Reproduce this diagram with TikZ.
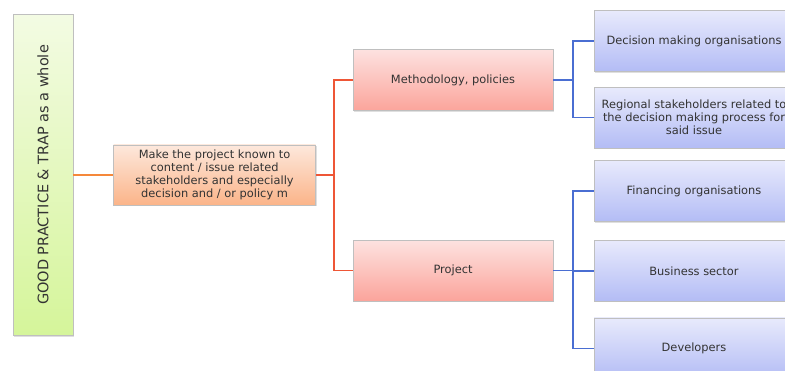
\documentclass[tikz,border=0pt]{standalone}
\usepackage{fontspec}
\setmainfont{DejaVu Sans}
\usepackage{tikz}
\usetikzlibrary{positioning, shadows, calc}

\definecolor{inktext}{HTML}{333333}
\definecolor{greentop}{HTML}{F3FBE3}
\definecolor{greenbot}{HTML}{D5F59A}
\definecolor{orangetop}{HTML}{FDE8DC}
\definecolor{orangebot}{HTML}{FBB489}
\definecolor{pinktop}{HTML}{FDE2E0}
\definecolor{pinkbot}{HTML}{FBA49B}
\definecolor{bluetop}{HTML}{E8EAFC}
\definecolor{bluebot}{HTML}{B3BCF5}
\definecolor{orangeline}{HTML}{F5883A}
\definecolor{redline}{HTML}{EE5636}
\definecolor{blueline}{HTML}{4A6ED2}

\tikzset{
    box/.style={rectangle, draw=black!25, line width=0.6pt, text=inktext,
        align=center, inner sep=2pt,
        drop shadow={opacity=0.25, shadow xshift=1pt, shadow yshift=-1.2pt}},
    greenbox/.style={box, top color=greentop, bottom color=greenbot,
        minimum width=60pt, minimum height=321pt, font=\fontsize{14.5}{16}\selectfont},
    orangebox/.style={box, top color=orangetop, bottom color=orangebot,
        minimum width=202pt, minimum height=60pt, font=\fontsize{11.4}{12.8}\selectfont},
    pinkbox/.style={box, top color=pinktop, bottom color=pinkbot,
        minimum width=200pt, minimum height=61pt, font=\fontsize{11.4}{12.8}\selectfont},
    bluebox/.style={box, top color=bluetop, bottom color=bluebot,
        minimum width=200pt, minimum height=61pt, font=\fontsize{11.4}{13}\selectfont},
    link/.style={line width=1.7pt}
}

\begin{document}
\begin{tikzpicture}[x=1pt, y=-1pt]
        \useasboundingbox (0,0) rectangle (785,371);

        \node (whole) [greenbox] at (43,175) {\rotatebox{90}{GOOD PRACTICE \& TRAP as a whole}};
        \node (make) [orangebox, right=40pt of whole] {Make the project known to\\content / issue related\\stakeholders and especially\\decision and / or policy m};

        \node (method) [pinkbox] at (453,80) {Methodology, policies};
        \node (project) [pinkbox, below=129pt of method] {Project};

        \node (decide) [bluebox] at (694,41) {Decision making organisations};
        \node (regional) [bluebox, below=15pt of decide] {Regional stakeholders related to\\the decision making process for\\said issue};
        \node (finance) [bluebox, below=12pt of regional] {Financing organisations};
        \node (business) [bluebox, below=18pt of finance] {Business sector};
        \node (devel) [bluebox, below=16pt of business] {Developers};

        \coordinate (fork1) at ($(make.east)+(18,0)$);
        \coordinate (fork2) at ($(method.east)+(20,0)$);
        \coordinate (fork3) at ($(project.east)+(20,0)$);

        \draw[link, orangeline] (whole) -- (make);
        \draw[link, redline] (make) -- (fork1);
        \draw[link, redline] (fork1) |- (method);
        \draw[link, redline] (fork1) |- (project);
        \draw[link, blueline] (method) -- (fork2);
        \draw[link, blueline] (fork2) |- (decide);
        \draw[link, blueline] (fork2) |- (regional);
        \draw[link, blueline] (project) -- (fork3);
        \draw[link, blueline] (fork3) |- (finance);
        \draw[link, blueline] (fork3) |- (business);
        \draw[link, blueline] (fork3) |- (devel);
    \end{tikzpicture}
\end{document}
